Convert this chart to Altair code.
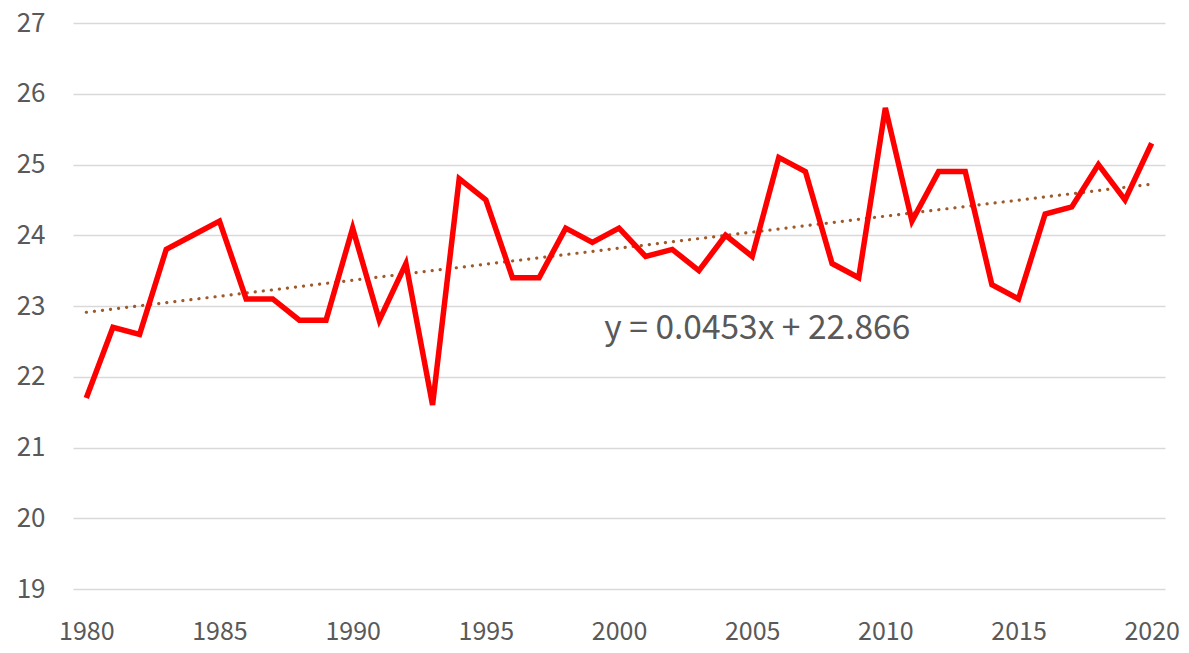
import altair as alt
import pandas as pd

years = list(range(1980, 2021))
temps = [21.7, 22.7, 22.6, 23.8, 24.0, 24.2, 23.1, 23.1, 22.8, 22.8,
         24.1, 22.8, 23.6, 21.6, 24.8, 24.5, 23.4, 23.4, 24.1, 23.9,
         24.1, 23.7, 23.8, 23.5, 24.0, 23.7, 25.1, 24.9, 23.6, 23.4,
         25.8, 24.2, 24.9, 24.9, 23.3, 23.1, 24.3, 24.4, 25.0, 24.5,
         25.3]
x_ticks = [1980, 1985, 1990, 1995, 2000, 2005, 2010, 2015, 2020]
y_ticks = [19, 20, 21, 22, 23, 24, 25, 26, 27]
eq_label = ["y = 0.0453x + 22.866"]
eq_pos_x = [1999.45]
eq_pos_y = [22.68]

df = pd.DataFrame({"year": years, "temp": temps})
lab = pd.DataFrame({"x": eq_pos_x, "y": eq_pos_y, "t": eq_label})

FONT = "Noto Sans CJK JP"
GREY = "#595959"

xs = alt.Scale(domain=[1979.5, 2020.5], nice=False, zero=False)
ys = alt.Scale(domain=[19, 27], nice=False, zero=False)

base = alt.Chart(df)

line = base.mark_line(color="#ff0000", strokeWidth=5.5, strokeJoin="miter").encode(
    x=alt.X("year:Q", scale=xs,
            axis=alt.Axis(values=x_ticks, format="d", grid=False, domain=False,
                          ticks=False, labelPadding=30, labelFontSize=25,
                          labelColor=GREY, labelFont=FONT, title=None,
                          labelFlush=False, labelOverlap=False)),
    y=alt.Y("temp:Q", scale=ys,
            axis=alt.Axis(values=y_ticks, format="d", grid=True, gridColor="#d9d9d9",
                          gridWidth=1.5, domain=False, ticks=False,
                          labelPadding=28, labelFontSize=26, labelColor=GREY,
                          labelFont=FONT, title=None)),
)

trend = base.transform_regression("year", "temp", method="linear").mark_line(
    color="#9e5a2b", strokeWidth=3.2, strokeDash=[0.1, 8], strokeCap="round"
).encode(x=alt.X("year:Q", scale=xs), y=alt.Y("temp:Q", scale=ys))

text = alt.Chart(lab).mark_text(
    align="left", baseline="middle", fontSize=33.5, font=FONT, color=GREY
).encode(x=alt.X("x:Q", scale=xs), y=alt.Y("y:Q", scale=ys), text="t:N")

chart = alt.layer(trend, line, text).properties(
    width=1092, height=566,
    padding={"left": 65, "top": 15, "right": 14, "bottom": 56},
    autosize=alt.AutoSizeParams(type="none"),
    background="white",
).configure_view(stroke=None)

chart.save("out.html", embed_options={"renderer": "svg", "actions": False})
